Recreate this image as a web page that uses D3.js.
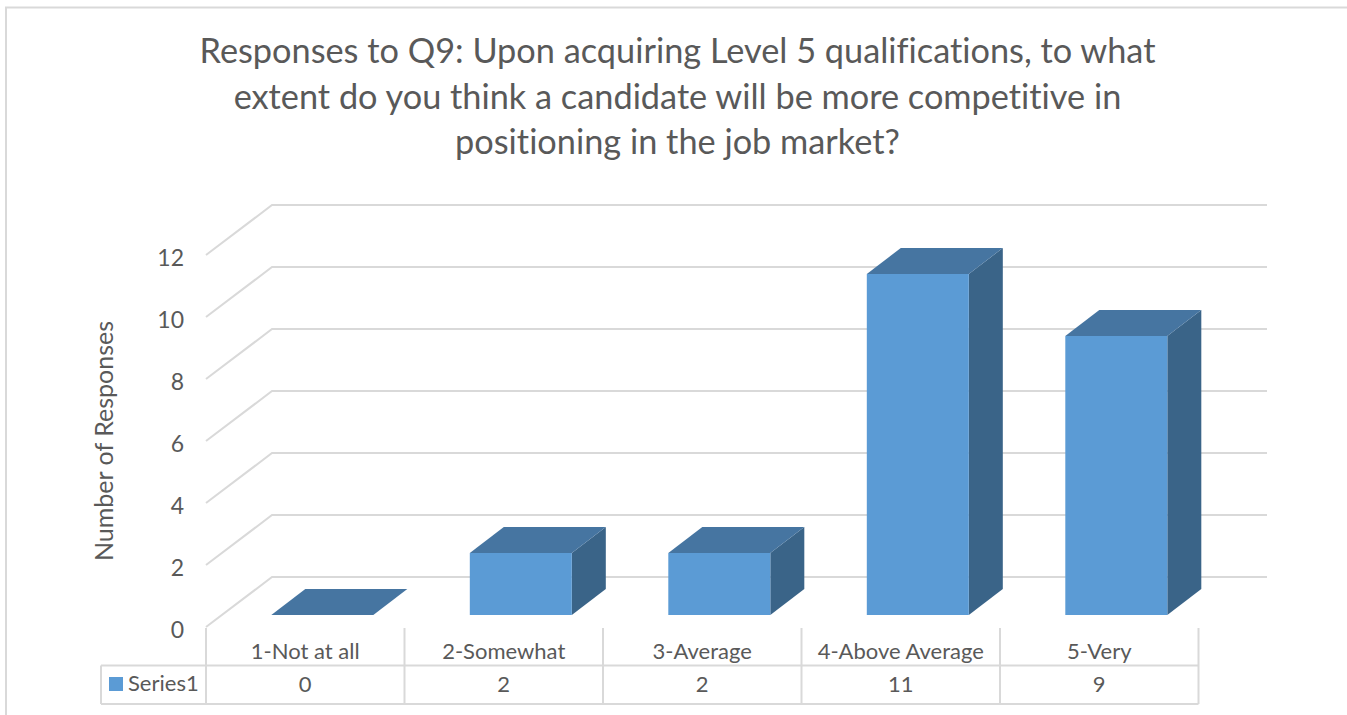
<!DOCTYPE html>
<html><head><meta charset="utf-8">
<script src="https://cdn.jsdelivr.net/npm/d3@7"></script>
<style>html,body{margin:0;padding:0;background:#fff}svg{display:block}text{font-family:Lato,"Open Sans",sans-serif;fill:#595959;font-variant-ligatures:none}</style>
</head><body><svg id="c" width="1347" height="715"></svg>
<script>
const titleLines = ["Responses to Q9: Upon acquiring Level 5 qualifications, to what","extent do you think a candidate will be more competitive in","positioning in the job market?"];
const categories = ["1-Not at all","2-Somewhat","3-Average","4-Above Average","5-Very"];
const seriesName = "Series1";
const values = [0,2,2,11,9];
const yTicks = [0,2,4,6,8,10,12];
const yTitle = "Number of Responses";

const svg = d3.select("#c");
const grid="#d9d9d9", front="#5b9bd5", top_="#4675a1", side="#3a6488";
const tableL=101, plotL=206, plotR=1198.5, tabTop=628, tabMid=665.5, tabBot=704;
const x = d3.scaleBand().domain(categories).range([plotL,plotR]).paddingInner(0).paddingOuter(0);
const y = d3.scaleLinear().domain([0,12]).range([627,255]);
const wallDx=66, wallDy=-50, wallR=1267;
const barW=102, depthDx=34, depthDy=-26, barLift=-12;

svg.append("path").attr("d","M6,715V7.5H1347").attr("fill","none").attr("stroke","#d9d9d9").attr("stroke-width",2);

titleLines.forEach((t,i)=>svg.append("text").attr("x",677.5).attr("y",63+i*45.5).attr("text-anchor","middle").attr("font-size",34.3).text(t));

const g=svg.append("g").attr("fill","none").attr("stroke",grid).attr("stroke-width",2);
yTicks.forEach(v=>{
  const yy=y(v);
  g.append("polyline").attr("points",[[plotL,yy],[plotL+wallDx,yy+wallDy],[wallR,yy+wallDy]].join(" "));
  svg.append("text").attr("x",184).attr("y",yy+10.5).attr("text-anchor","end").attr("font-size",23).text(v);
});

categories.forEach((c,i)=>{
  const bx=x(c)+x.bandwidth()*0.33-0.2;
  const yb=y(0)+barLift, yt=y(values[i])+barLift;
  const b=svg.append("g");
  b.append("polygon").attr("fill",side).attr("points",[[bx+barW,yb],[bx+barW+depthDx,yb+depthDy],[bx+barW+depthDx,yt+depthDy],[bx+barW,yt]].join(" "));
  b.append("polygon").attr("fill",top_).attr("points",[[bx,yt],[bx+depthDx,yt+depthDy],[bx+barW+depthDx,yt+depthDy],[bx+barW,yt]].join(" "));
  if(values[i]>0) b.append("rect").attr("x",bx).attr("y",yt).attr("width",barW).attr("height",yb-yt).attr("fill",front);
});

const t=svg.append("g").attr("fill","none").attr("stroke",grid).attr("stroke-width",2);
t.append("path").attr("d",`M${tableL},${tabMid}H${plotR}M${tableL},${tabBot}H${plotR}M${tableL},${tabMid}V${tabBot}`);
[...categories.map(c=>x(c)),plotR].forEach(px=>t.append("path").attr("d",`M${px},${tabTop}V${tabBot}`));
categories.forEach((c,i)=>{
  const cx=x(c)+x.bandwidth()/2;
  svg.append("text").attr("x",cx).attr("y",659).attr("text-anchor","middle").attr("font-size",22).text(c);
  svg.append("text").attr("x",cx).attr("y",692).attr("text-anchor","middle").attr("font-size",22).text(values[i]);
});
svg.append("rect").attr("x",109).attr("y",677).attr("width",14).attr("height",14).attr("fill",front);
svg.append("text").attr("x",128).attr("y",691).attr("font-size",22).text(seriesName);

svg.append("text").attr("transform","translate(113,441) rotate(-90)").attr("text-anchor","middle").attr("font-size",25).text(yTitle);
</script></body></html>
